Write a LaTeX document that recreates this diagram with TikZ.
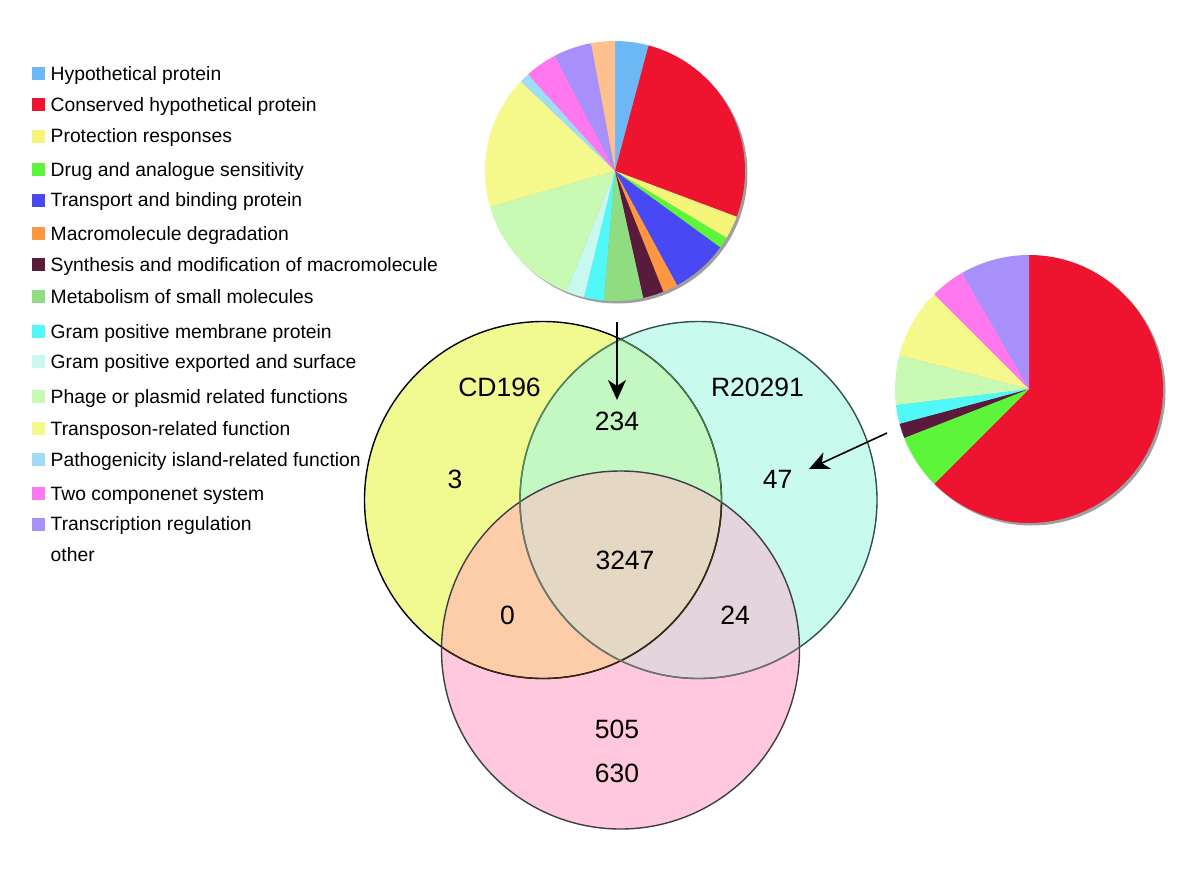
\documentclass[tikz,border=0pt]{standalone}
\usepackage{fontspec}
\setmainfont{Liberation Sans}
\usetikzlibrary{arrows.meta}
% pie / legend colours
\definecolor{hyp}{RGB}{107,184,245}
\definecolor{cons}{RGB}{238,20,48}
\definecolor{prot}{RGB}{245,245,122}
\definecolor{drug}{RGB}{92,245,58}
\definecolor{trans}{RGB}{72,72,245}
\definecolor{macdeg}{RGB}{255,150,64}
\definecolor{synth}{RGB}{90,26,60}
\definecolor{metab}{RGB}{144,220,128}
\definecolor{grammem}{RGB}{80,248,248}
\definecolor{gramexp}{RGB}{200,248,240}
\definecolor{phage}{RGB}{200,250,180}
\definecolor{transp}{RGB}{245,248,138}
\definecolor{patho}{RGB}{160,220,245}
\definecolor{twocomp}{RGB}{255,120,240}
\definecolor{transcr}{RGB}{168,144,250}
\definecolor{other}{RGB}{255,192,144}
% venn colours
\definecolor{vy}{RGB}{240,250,145}
\definecolor{vc}{RGB}{200,250,238}
\definecolor{vp}{RGB}{255,200,220}
\definecolor{vyc}{RGB}{195,248,195}
\definecolor{vyp}{RGB}{253,205,170}
\definecolor{vcp}{RGB}{228,212,220}
\definecolor{vycp}{RGB}{228,215,195}
\definecolor{cedge}{RGB}{50,80,80}
\definecolor{pedge}{RGB}{60,62,72}
\newcommand\pieslice[5]{\fill[#5] (#1) -- ++(#3:#2) arc[start angle=#3, end angle=#4, radius=#2] -- cycle;}
\begin{document}
\begin{tikzpicture}[x=1pt,y=1pt,
  legsq/.style={rectangle, minimum size=13pt, inner sep=0pt},
  legtext/.style={anchor=base west, inner sep=0pt, font=\fontsize{19.3}{23}\selectfont},
  vlabel/.style={inner sep=0pt, font=\fontsize{26.5}{30}\selectfont},
  pointer/.style={line width=1.6pt, -{Stealth[length=20pt,width=18pt,inset=6pt]}}
]
\useasboundingbox (0,0) rectangle (1200,-870);
\fill[white] (0,0) rectangle (1200,-870);

% ---------- legend ----------
\foreach \c/\t/\y [count=\i] in {
 hyp/Hypothetical protein/73.7,
 cons/Conserved hypothetical protein/104.3,
 prot/Protection responses/136,
 drug/Drug and analogue sensitivity/169.3,
 trans/Transport and binding protein/200,
 macdeg/Macromolecule degradation/233.7,
 synth/Synthesis and modification of macromolecule/264.3,
 metab/Metabolism of small molecules/296.7,
 grammem/Gram positive membrane protein/331.7,
 gramexp/Gram positive exported and surface/361.7,
 phage/Phage or plasmid related functions/396.7,
 transp/Transposon-related function/428.3,
 patho/Pathogenicity island-related function/459.3,
 twocomp/Two componenet system/493.3,
 transcr/Transcription regulation/524}{
  \node[legsq, fill=\c] (sq\i) at (38.5,-\y) {};
  \node[legtext] (lt\i) at (50.5,-\y-6.9) {\t};
}
\node[legtext] (lt16) at (50.5,-555-6.9) {other};

% ---------- pie 1 ----------
\coordinate (pa) at (615,-171);
\fill[gray!75] ([shift={(2.5,-2.5)}]pa) circle (130);
\pieslice{pa}{130}{90}{75}{hyp}
\pieslice{pa}{130}{75}{-20.6}{cons}
\pieslice{pa}{130}{-20.6}{-31}{prot}
\pieslice{pa}{130}{-31}{-36}{drug}
\pieslice{pa}{130}{-36}{-61.5}{trans}
\pieslice{pa}{130}{-61.5}{-68.2}{macdeg}
\pieslice{pa}{130}{-68.2}{-77.5}{synth}
\pieslice{pa}{130}{-77.5}{-95}{metab}
\pieslice{pa}{130}{-95}{-103.8}{grammem}
\pieslice{pa}{130}{-103.8}{-112}{gramexp}
\pieslice{pa}{130}{-112}{-164}{phage}
\pieslice{pa}{130}{-164}{-223.6}{transp}
\pieslice{pa}{130}{-223.6}{-228.1}{patho}
\pieslice{pa}{130}{-228.1}{-242.4}{twocomp}
\pieslice{pa}{130}{-242.4}{-259.4}{transcr}
\pieslice{pa}{130}{-259.4}{-270}{other}

% ---------- pie 2 ----------
\coordinate (pb) at (1029,-389);
\fill[gray!75] ([shift={(2.5,-2.5)}]pb) circle (134);
\pieslice{pb}{134}{90}{-135}{cons}
\pieslice{pb}{134}{-135}{-158.6}{drug}
\pieslice{pb}{134}{-158.6}{-165}{synth}
\pieslice{pb}{134}{-165}{-173.1}{grammem}
\pieslice{pb}{134}{-173.1}{-194.6}{phage}
\pieslice{pb}{134}{-194.6}{-225}{transp}
\pieslice{pb}{134}{-225}{-240.1}{twocomp}
\pieslice{pb}{134}{-240.1}{-270}{transcr}

% ---------- venn ----------
\coordinate (Y) at (543,-500);
\coordinate (C) at (698.5,-500);
\coordinate (P) at (620.5,-650);
\fill[vy] (Y) circle (178.5);
\fill[vc] (C) circle (178.5);
\fill[vp] (P) circle (179);
\begin{scope}\clip (Y) circle (178.5); \fill[vyc] (C) circle (178.5);\end{scope}
\begin{scope}\clip (Y) circle (178.5); \fill[vyp] (P) circle (179);\end{scope}
\begin{scope}\clip (C) circle (178.5); \fill[vcp] (P) circle (179);\end{scope}
\begin{scope}\clip (Y) circle (178.5); \clip (C) circle (178.5); \fill[vycp] (P) circle (179);\end{scope}
% outlines: outer parts solid, inner parts lighter
\begin{scope}[line width=1.4pt]
  \draw[black] (Y) circle (178.5);
  \draw[cedge] (C) circle (178.5);
  \draw[pedge] (P) circle (179);
\end{scope}
\begin{scope}
  \clip (C) circle (177.8);
  \draw[line width=1.3pt, black!55!green!40!gray] (Y) circle (178.5);
\end{scope}
\begin{scope}
  \clip (Y) circle (177.8);
  \draw[line width=1.3pt, cedge!60!green!50!gray] (C) circle (178.5);
\end{scope}
\begin{scope}
  \clip (P) circle (178.3);
  \draw[line width=1.3pt, black!70!brown] (Y) circle (178.5);
  \draw[line width=1.3pt, gray!90!black] (C) circle (178.5);
\end{scope}

% labels
\node[vlabel] (cd) at (499.5,-387) {CD196};
\node[vlabel] (rr) at (757.5,-387) {R20291};
\node[vlabel] (n234) at (617,-421) {234};
\node[vlabel] (n3) at (455,-479) {3};
\node[vlabel] (n47) at (777.5,-479) {47};
\node[vlabel] (n3247) at (625,-560) {3247};
\node[vlabel] (n0) at (507.5,-615) {0};
\node[vlabel] (n24) at (735,-615) {24};
\node[vlabel] (n505) at (617,-729) {505};
\node[vlabel] (n630) at (617,-773) {630};

% arrows
\coordinate (a1s) at (617,-321.7);
\coordinate (a1e) at (617,-400);
\coordinate (a2s) at (887,-433);
\coordinate (a2e) at (809,-469);
\draw[pointer] (a1s) -- (a1e);
\draw[pointer] (a2s) -- (a2e);
\end{tikzpicture}
\end{document}
